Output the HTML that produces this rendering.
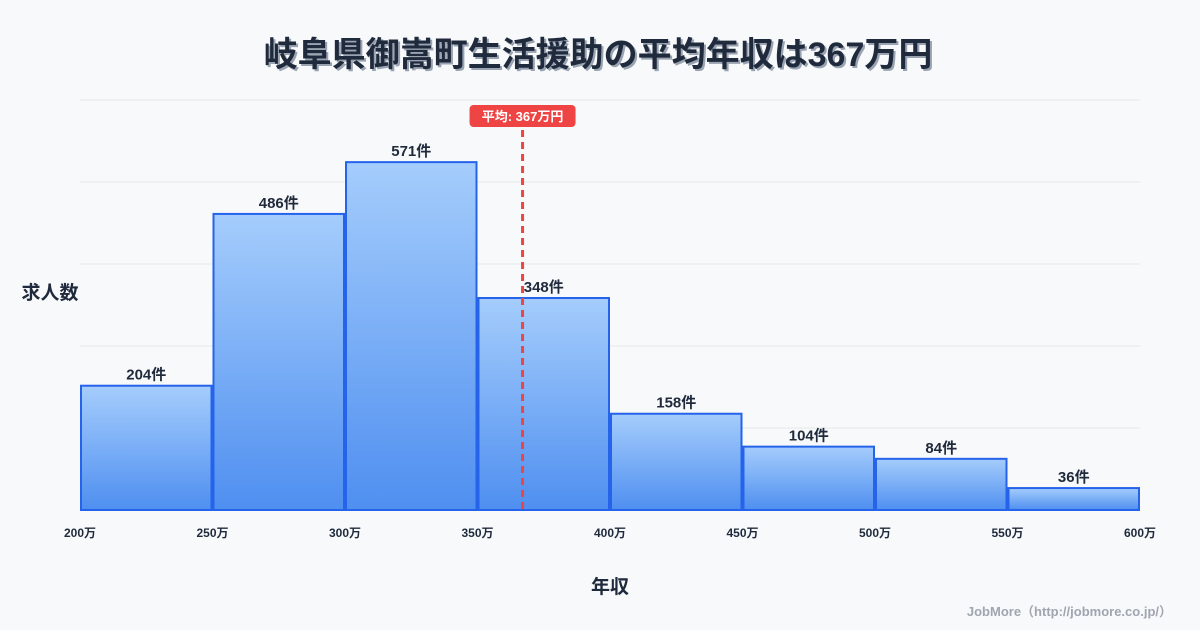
<!DOCTYPE html>
<html><head><meta charset="utf-8"><style>
body{margin:0;background:#f8f9fb;font-family:"Liberation Sans","Noto Sans CJK JP",sans-serif;}
#w{position:relative;width:1200px;height:630px;background:#f8f9fb;overflow:hidden}
</style></head><body>
<div id="w">
<svg id="s" width="1200" height="630" xmlns="http://www.w3.org/2000/svg">
<defs><linearGradient id="g" x1="0" y1="0" x2="0" y2="1"><stop offset="0" stop-color="#a5cdfc"/><stop offset="1" stop-color="#4f8ff0"/></linearGradient></defs>
<text x="600" y="68" text-anchor="middle" font-size="34" font-weight="bold" fill="#9aa3b2">岐阜県御嵩町生活援助の平均年収は367万円</text>
<text x="598" y="66" text-anchor="middle" font-size="34" font-weight="bold" fill="#1f2a3c">岐阜県御嵩町生活援助の平均年収は367万円</text>
<text x="50" y="299" text-anchor="middle" font-size="19" font-weight="bold" fill="#1f2a3c">求人数</text>
<text x="610" y="593" text-anchor="middle" font-size="19" font-weight="bold" fill="#1f2a3c">年収</text>
<text x="1172" y="616" text-anchor="end" font-size="13" font-weight="bold" fill="#a0a6b0">JobMore（http://jobmore.co.jp/）</text>
<g id="grid"></g><g id="bars"></g><g id="ticks"></g><g id="mean"></g>
</svg></div>
<script>
const binStarts=[200,250,300,350,400,450,500,550];
const counts=[204,486,571,348,158,104,84,36];
const xTicks=[200,250,300,350,400,450,500,550,600];
const meanValue=367;
const NS="http://www.w3.org/2000/svg";
const x0=80,x1=1140,yB=510,yT=100,xmin=200,xmax=600,ymax=673;
const X=v=>x0+(v-xmin)/(xmax-xmin)*(x1-x0);
const Y=v=>yB-v/ymax*(yB-yT);
function mk(t,a,p){const e=document.createElementNS(NS,t);for(const k in a)e.setAttribute(k,a[k]);p.appendChild(e);return e;}
const grid=document.getElementById('grid');
for(let i=0;i<=5;i++){const y=yT+i*(yB-yT)/5;const l=mk('line',{x1:x0,x2:x1,y1:y,y2:y,stroke:'#e3e6ea','stroke-width':1},grid);

}
const bars=document.getElementById('bars');
counts.forEach((c,i)=>{const a=X(binStarts[i])+1,b=X(binStarts[i]+50)-1,y=Y(c);
const r=mk('rect',{x:a,y:y,width:b-a,height:yB-y,fill:'url(#g)',stroke:'#2563eb','stroke-width':2},bars);


const t=mk('text',{x:(a+b)/2,y:y-6,'text-anchor':'middle','font-size':15,'font-weight':'bold',fill:'#1f2a3c'},bars);t.textContent=c+'件';

});
const tk=document.getElementById('ticks');
xTicks.forEach(v=>{const t=mk('text',{x:X(v),y:537,'text-anchor':'middle','font-size':12,'font-weight':'bold',fill:'#1f2a3c'},tk);t.textContent=v+'万';

});
const m=document.getElementById('mean');const mx=X(meanValue);
const ml=mk('line',{x1:mx,x2:mx,y1:130,y2:yB,stroke:'#ef4444','stroke-width':3,'stroke-dasharray':'7,5'},m);


const mr=mk('rect',{x:mx-53,y:105,width:106,height:22,rx:4,fill:'#ef4444'},m);


const mt=mk('text',{x:mx,y:121,'text-anchor':'middle','font-size':13,'font-weight':'bold',fill:'#fff'},m);mt.textContent='平均: '+meanValue+'万円';


</script>
</body></html>
